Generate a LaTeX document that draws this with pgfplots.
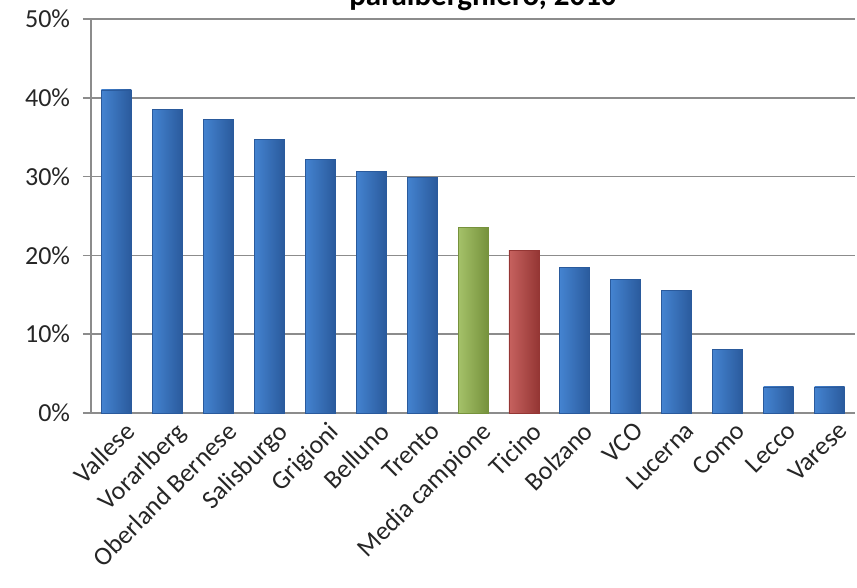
\documentclass[border=0pt]{standalone}
\usepackage{pgfplots}
\pgfplotsset{compat=1.18}
\usepackage{fontspec}
\setmainfont{Carlito}
\definecolor{barblue}{HTML}{3B7BCB}
\definecolor{barbluedark}{HTML}{2A5A9C}
\definecolor{barbluelight}{HTML}{4483D0}
\definecolor{bargreen}{HTML}{9BBB59}
\definecolor{bargreendark}{HTML}{76923C}
\definecolor{barred}{HTML}{C0504D}
\definecolor{barreddark}{HTML}{943634}
\definecolor{gridgray}{HTML}{8C8C8C}
\pgfplotsset{
  bluebar/.style={draw=barbluedark, line width=0.4pt, left color=barbluelight, middle color=barblue, right color=barbluedark},
  greenbar/.style={draw=bargreendark, line width=0.4pt, left color=bargreen!90!white, middle color=bargreen, right color=bargreendark},
  redbar/.style={draw=barreddark, line width=0.4pt, left color=barred!90!white, middle color=barred, right color=barreddark},
}
\begin{document}
\begin{tikzpicture}[x=0.5pt,y=0.5pt]
\useasboundingbox (-91,-175) rectangle (766,413);
\begin{axis}[
  at={(0,0)}, anchor=south west,
  scale only axis, width=382pt, height=197pt,
  xmin=-0.5, xmax=14.5, ymin=0, ymax=50,
  axis lines*=left,
  axis line style={draw=gridgray, line width=0.8pt},
  ymajorgrids, grid style={draw=gridgray, line width=0.8pt},
  ytick={0,10,20,30,40,50},
  yticklabels={0\%,10\%,20\%,30\%,40\%,50\%},
  xtick={0,...,14},
  xticklabels={Vallese,Vorarlberg,Oberland Bernese,Salisburgo,Grigioni,Belluno,Trento,Media campione,Ticino,Bolzano,VCO,Lucerna,Como,Lecco,Varese},
  x tick label style={rotate=45, anchor=north east, inner sep=1pt, xshift=4pt, yshift=-1pt},
  y tick label style={inner sep=1pt, xshift=-5pt},
  tick align=outside,
  tick style={draw=gridgray, line width=0.8pt},
  xtick style={/pgfplots/major tick length=0pt},
  ytick style={/pgfplots/major tick length=4pt},
  extra x ticks={-0.5,0.5,...,14.5},
  extra x tick labels={},
  extra x tick style={grid=none, /pgfplots/major tick length=4pt},
  ticklabel style={font=\fontsize{13}{15}\selectfont, text=black!85},
  ybar, bar width=15pt, bar shift=0pt,
  clip=false,
]
\addplot[bluebar] coordinates {(0,41.0)};
\addplot[bluebar] coordinates {(1,38.5)};
\addplot[bluebar] coordinates {(2,37.3)};
\addplot[bluebar] coordinates {(3,34.7)};
\addplot[bluebar] coordinates {(4,32.2)};
\addplot[bluebar] coordinates {(5,30.6)};
\addplot[bluebar] coordinates {(6,29.9)};
\addplot[greenbar] coordinates {(7,23.5)};
\addplot[redbar] coordinates {(8,20.6)};
\addplot[bluebar] coordinates {(9,18.5)};
\addplot[bluebar] coordinates {(10,16.9)};
\addplot[bluebar] coordinates {(11,15.6)};
\addplot[bluebar] coordinates {(12,8.1)};
\addplot[bluebar] coordinates {(13,3.3)};
\addplot[bluebar] coordinates {(14,3.3)};
\end{axis}
\node[font=\bfseries\fontsize{15.5}{17}\selectfont, anchor=base] at (392,407) {paralberghiero, 2010};
\end{tikzpicture}
\end{document}
